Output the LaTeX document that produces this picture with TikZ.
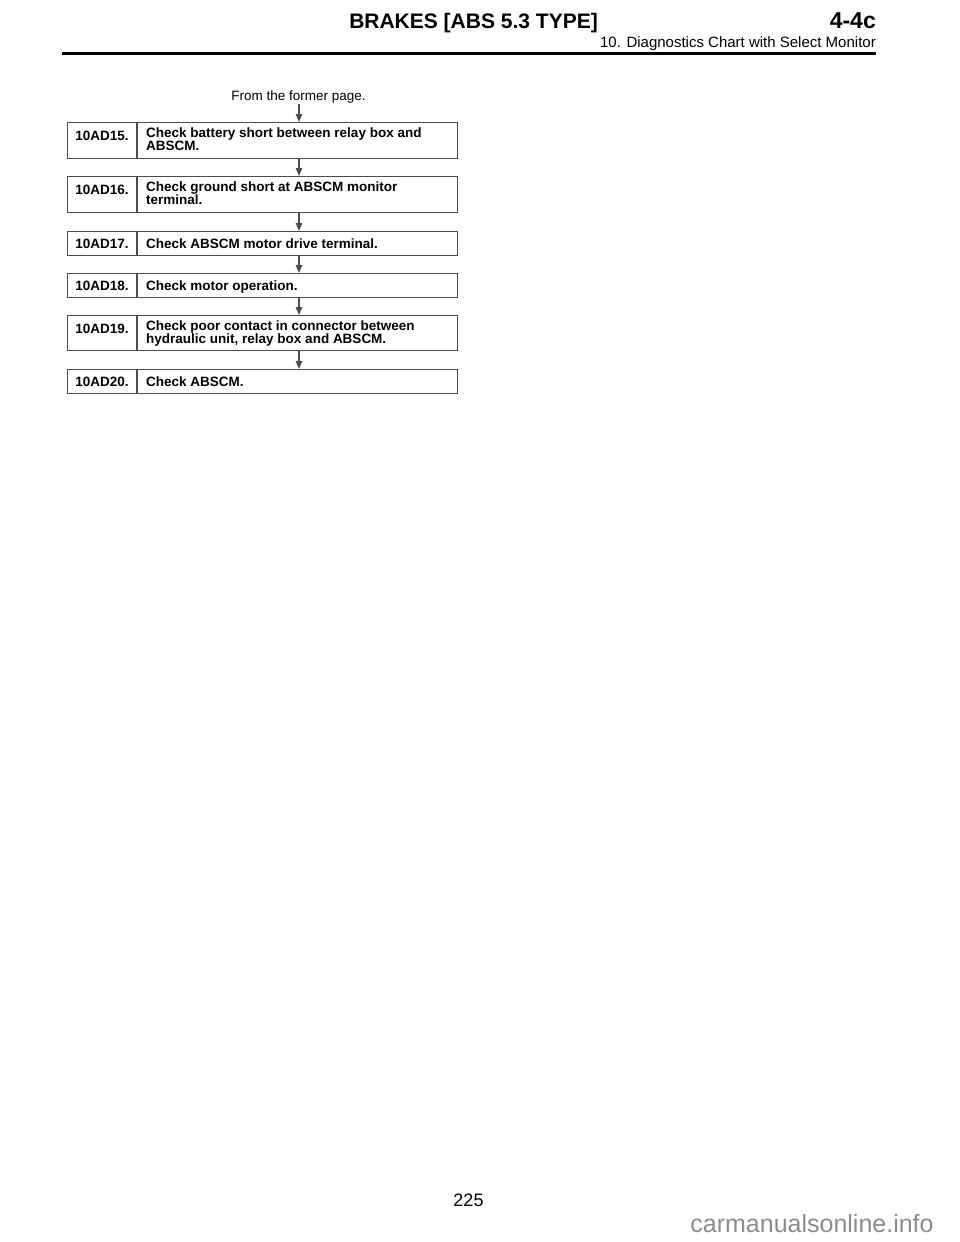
\documentclass[tikz,border=0pt]{standalone}
\usepackage{fontspec}
\setmainfont{Liberation Sans}
\usetikzlibrary{arrows.meta}
\definecolor{linegray}{gray}{0.3}
\definecolor{wmgray}{gray}{0.55}
\tikzset{
  stepbox/.style={draw=linegray, line width=1.3pt, minimum width=390pt, inner sep=0pt, anchor=north west},
  divline/.style={draw=linegray, line width=1.3pt},
  lab/.style={font=\fontsize{13.5}{10.5}\selectfont\bfseries, inner sep=0pt, anchor=base},
  txt/.style={font=\fontsize{13.5}{10.7}\selectfont\bfseries, inner sep=0pt, anchor=base west, align=left},
  arr/.style={draw=linegray, line width=1.3pt, -{Triangle[length=8pt,width=6.5pt]}},
}
\begin{document}
\begin{tikzpicture}[x=1pt,y=-1pt]
\useasboundingbox (0,0) rectangle (960,1242);
% header
\node[font=\fontsize{21}{24}\selectfont\bfseries, inner sep=0pt, anchor=base east] (title) at (598,28) {BRAKES [ABS 5.3 TYPE]};
\node[font=\fontsize{23}{26}\selectfont\bfseries, inner sep=0pt, anchor=base east] (sec) at (876,28) {4-4c};
\node[font=\fontsize{15}{18}\selectfont, inner sep=0pt, anchor=base east] (sub) at (876,47) {10. Diagnostics Chart with Select Monitor};
\coordinate (rl) at (62,53);
\coordinate (rr) at (876,53);
\draw[line width=3pt] (rl) -- (rr);
% arrow column
\coordinate (ax) at (299,0);
\coordinate (dx) at (137,0);
% boxes
\node[stepbox, minimum height=36pt] (b15) at (67,122) {};
\node[stepbox, minimum height=36pt] (b16) at (67,176) {};
\node[stepbox, minimum height=24pt] (b17) at (67,231) {};
\node[stepbox, minimum height=24pt] (b18) at (67,273) {};
\node[stepbox, minimum height=35pt] (b19) at (67,315) {};
\node[stepbox, minimum height=24pt] (b20) at (67,369) {};
\foreach \b in {b15,b16,b17,b18,b19,b20}{
  \draw[divline] (\b.north -| dx) -- (\b.south -| dx);
}
% labels (multi-line nodes are anchored at the baseline of their last line)
\node[lab] (l15) at (102,140) {10AD15.};
\node[txt] (t15) at (146,150.7) {Check battery short between relay box and\\ABSCM.};
\node[lab] (l16) at (102,194) {10AD16.};
\node[txt] (t16) at (146,204.7) {Check ground short at ABSCM monitor\\terminal.};
\node[lab] (l17) at (102,248.3) {10AD17.};
\node[txt] (t17) at (146,248.3) {Check ABSCM motor drive terminal.};
\node[lab] (l18) at (102,290.3) {10AD18.};
\node[txt] (t18) at (146,290.3) {Check motor operation.};
\node[lab] (l19) at (102,333) {10AD19.};
\node[txt] (t19) at (146,343.7) {Check poor contact in connector between\\hydraulic unit, relay box and ABSCM.};
\node[lab] (l20) at (102,386.3) {10AD20.};
\node[txt] (t20) at (146,386.3) {Check ABSCM.};
% from
\node[font=\fontsize{13.5}{16}\selectfont, inner sep=0pt, anchor=base] (from) at (298.5,100) {From the former page.};
% arrows
\draw[arr] (from.south -| ax) ++(0,1) -- (b15.north -| ax);
\draw[arr] (b15.south -| ax) -- (b16.north -| ax);
\draw[arr] (b16.south -| ax) -- (b17.north -| ax);
\draw[arr] (b17.south -| ax) -- (b18.north -| ax);
\draw[arr] (b18.south -| ax) -- (b19.north -| ax);
\draw[arr] (b19.south -| ax) -- (b20.north -| ax);
% footer
\node[font=\fontsize{18}{20}\selectfont, inner sep=0pt, anchor=base] (page) at (468.5,1206) {225};
\node[font=\fontsize{25}{28}\selectfont, text=wmgray, inner sep=0pt, anchor=base] (wm) at (812,1232) {carmanualsonline.info};
\end{tikzpicture}
\end{document}
